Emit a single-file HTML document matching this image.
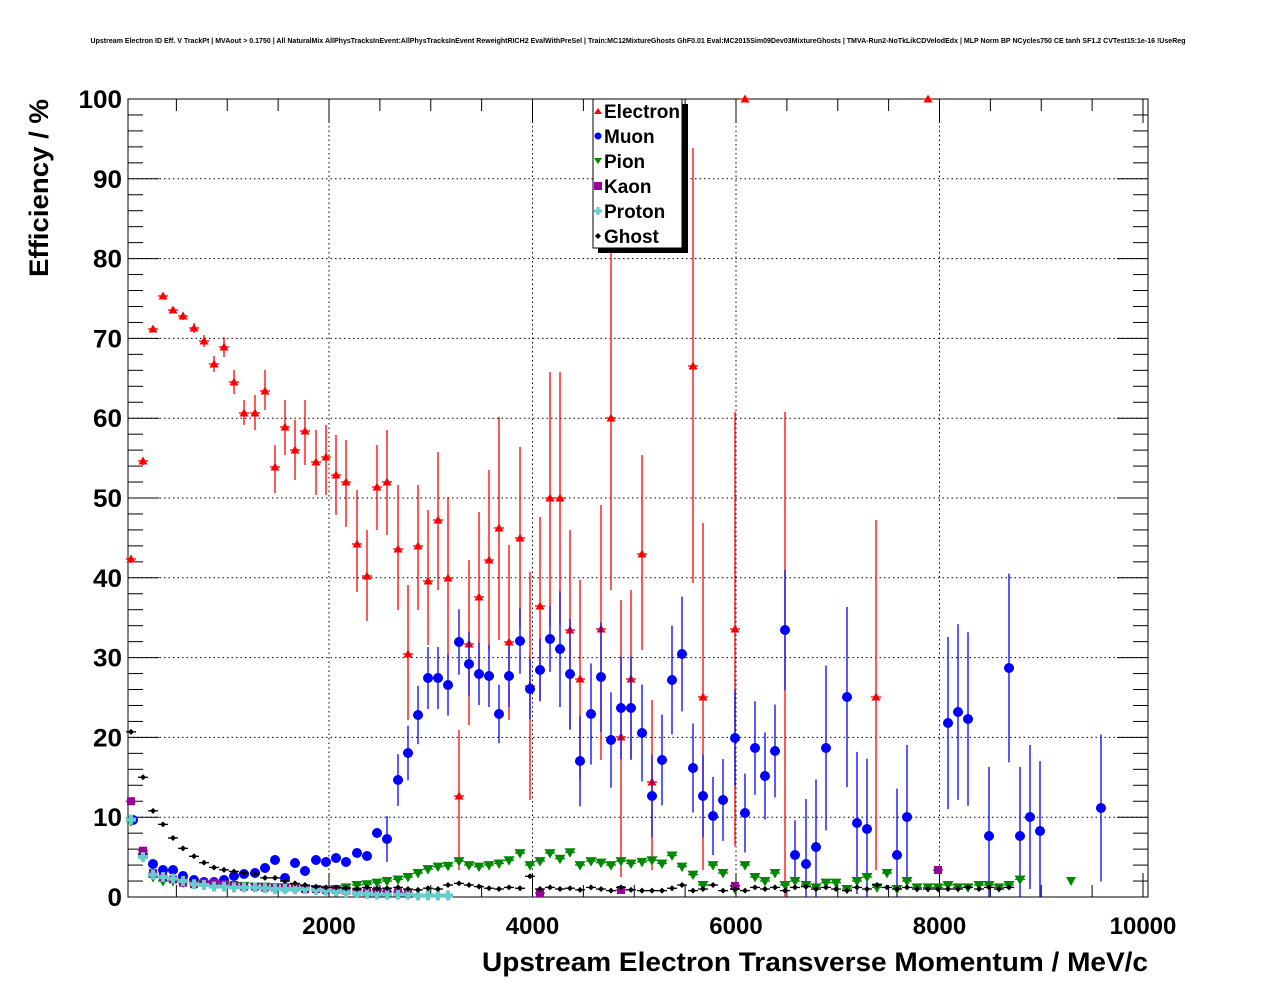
<!DOCTYPE html>
<html><head><meta charset="utf-8"><style>
body{margin:0;background:#fff;width:1276px;height:996px;overflow:hidden}
svg{display:block}
text{font-family:"Liberation Sans",sans-serif;font-weight:bold}
</style></head><body>
<svg id="s" width="1276" height="996" xmlns="http://www.w3.org/2000/svg">
<rect width="1276" height="996" fill="#fff"/>
<text x="638" y="43" font-size="7" text-anchor="middle" textLength="1095" lengthAdjust="spacingAndGlyphs">Upstream Electron ID Eff. V TrackPt | MVAout &gt; 0.1750 | All NaturalMix AllPhysTracksInEvent:AllPhysTracksInEvent ReweightRICH2 EvalWithPreSel | Train:MC12MixtureGhosts GhF0.01 Eval:MC2015Sim09Dev03MixtureGhosts | TMVA-Run2-NoTkLikCDVelodEdx | MLP Norm BP NCycles750 CE tanh SF1.2 CVTest15:1e-16 !UseReg</text>
<g id="grid"></g><g id="ax"></g><g id="data"></g><g id="leg"></g>
<text x="1148" y="971" font-size="27" text-anchor="end" textLength="666" lengthAdjust="spacingAndGlyphs">Upstream Electron Transverse Momentum / MeV/c</text>
<text transform="translate(48,99) rotate(-90)" font-size="27" text-anchor="end" textLength="178" lengthAdjust="spacingAndGlyphs">Efficiency / %</text>
</svg>
<script>
const NS="http://www.w3.org/2000/svg";
function el(p,t,a,txt){const e=document.createElementNS(NS,t);for(const k in a)e.setAttribute(k,a[k]);if(txt!==undefined)e.textContent=txt;document.getElementById(p).appendChild(e);return e;}
const X0=128,X1=1148,Y0=897,Y1=99;
const px=v=>125.5+v*0.10175, py=v=>Y0-v*7.98;
for(let v=2000;v<=8000;v+=2000)el("grid","line",{x1:px(v),x2:px(v),y1:Y1,y2:Y0,stroke:"#000","stroke-dasharray":"1.5,3","stroke-width":1});
for(let v=10;v<=90;v+=10)el("grid","line",{x1:X0,x2:X1,y1:py(v),y2:py(v),stroke:"#000","stroke-dasharray":"1.5,3","stroke-width":1});
el("ax","rect",{x:X0,y:Y1,width:X1-X0,height:Y0-Y1,fill:"none",stroke:"#000","stroke-width":1});
for(let v=0;v<=100;v+=2){const y=py(v),L=v%10==0?31:15;el("ax","line",{x1:X0,x2:X0+L,y1:y,y2:y,stroke:"#000"});el("ax","line",{x1:X1,x2:X1-L,y1:y,y2:y,stroke:"#000"});}
for(let v=0;v<=10000;v+=500){const x=px(v);if(x<X0||x>X1)continue;const L=v%2000==0?24:12;el("ax","line",{x1:x,x2:x,y1:Y0,y2:Y0-L,stroke:"#000"});el("ax","line",{x1:x,x2:x,y1:Y1,y2:Y1+L,stroke:"#000"});}
for(let v=0;v<=100;v+=10){const t=el("ax","text",{x:122,y:py(v)+9,"font-size":25,"text-anchor":"end"},""+v);t.setAttribute("textLength",(""+v).length*14.5);t.setAttribute("lengthAdjust","spacingAndGlyphs");}
for(let v=2000;v<=10000;v+=2000)el("ax","text",{x:px(v),y:934,"font-size":24,"text-anchor":"middle"},""+v);
function mark(g,type,x,y,c){
 if(type=="tu")el(g,"polygon",{points:`${x-4.5},${y+3.5} ${x+4.5},${y+3.5} ${x},${y-4.5}`,fill:c});
 else if(type=="td")el(g,"polygon",{points:`${x-5.5},${y-4} ${x+5.5},${y-4} ${x},${y+5.5}`,fill:c});
 else if(type=="c")el(g,"circle",{cx:x,cy:y,r:5,fill:c});
 else if(type=="sq")el(g,"rect",{x:x-4,y:y-4,width:8,height:8,fill:c});
 else if(type=="pl"){el(g,"rect",{x:x-5,y:y-2,width:10,height:4,fill:c});el(g,"rect",{x:x-2,y:y-5,width:4,height:10,fill:c});}
 else if(type=="d")el(g,"polygon",{points:`${x-3},${y} ${x},${y-3} ${x+3},${y} ${x},${y+3}`,fill:c});
}
function series(pts,type,c,hw){
 for(const p of pts){const [x,y,t,b]=p;
  el("data","line",{x1:x-hw,x2:x+hw,y1:y,y2:y,stroke:c,"stroke-width":1.3});
  if(t!==undefined)el("data","line",{x1:x,x2:x,y1:t,y2:Math.min(b,Y0),stroke:c,"stroke-width":1.3});
  mark("data",type,x,y,c);}
}
const pr=[131,143,153,163,173,183,194,204,214,224,234,244,255,265,275,285,295,305,316,326,336,346,357,367,377,387,398,408,418,428,438,448,459,469,479,489,499,509,520,530,540,550,560,570,580,591,601,611,621,631,642,652,662,672,682,693,703,713,723,735,745,755,765,775,785,795,806,816,826,836,847,857,867,877,887,897,907,917,928,938,948,958,968,979,989,999,1009,1020,1030,1040,1050,1060,1070,1080,1090,1101];
const E=[[131,559,555,563],[143,461,458,465],[153,329,327,332],[163,296,294,298],[173,310,307,313],[183,316,312,320],[194,328,323,333],[204,341,335,347],[214,364,356,372],[224,347,337,357],[234,382,370,394],[244,413,400,425],[255,413,395,430],[265,391,370,410],[275,467,445,493],[285,427,400,455],[295,450,420,480],[305,431,400,465],[316,462,430,495],[326,457,425,495],[336,475,435,515],[346,482,440,527],[357,544,490,592],[367,576,530,621],[377,487,445,530],[387,482,430,535],[398,549,485,610],[408,654,585,720],[418,546,485,610],[428,581,510,645],[438,520,452,590],[448,578,497,660],[459,796,730,870],[469,644,560,725],[479,597,512,680],[489,560,470,650],[499,528,417,640],[509,642,545,720],[520,538,447,627],[530,686,572,800],[540,606,517,700],[550,498,372,625],[560,498,372,625],[570,630,530,730],[580,679,580,780],[601,629,505,760],[611,418,245,590],[621,737,600,877],[631,679,590,760],[642,554,455,650],[652,782,700,870],[693,366,148,583],[703,697,523,870],[735,629,412,846],[745,99],[876,697,520,870],[928,99]];
series(E,"tu","#f00",5);
el("data","line",{x1:785,x2:785,y1:412,y2:897,stroke:"#f00","stroke-width":1.3});
const M=[[133,820],[143,855],[153,864],[163,870],[173,870],[183,876],[194,880],[204,882],[214,882],[224,880],[234,876],[244,874],[255,873],[265,868],[275,860],[285,878],[295,863],[305,871],[316,860],[326,862],[336,858],[346,862],[357,853],[367,856],[377,833],[387,839],[398,780],[408,753],[418,715],[428,678],[438,678],[448,685],[459,642],[469,664],[479,674],[489,676],[499,714],[509,676],[520,641],[530,689],[540,670],[550,639],[560,649],[570,674],[580,761],[591,714],[601,677],[611,740],[621,708],[631,708],[642,733],[652,796],[662,760],[672,680],[682,654],[693,768],[703,796],[713,816],[723,800],[735,738],[745,813],[755,748],[765,776],[775,751],[785,630],[795,855],[806,864],[816,847],[826,748],[847,697],[857,823],[867,829],[897,855],[907,817],[948,723],[958,712],[968,719],[989,836],[1009,668],[1020,836],[1030,817],[1040,831],[1101,808]];
series(M.map(([x,y])=>{const v=(Y0-y)/7.98;const e=x<380?Math.max(2,v*0.08):(x<560?20+v*0.4:(x<800?30+v*0.9:60+v*1.2));return [x,y,y-e,y+e];}),"c","#00f",5);
const Pv=[9.5,5,2.5,2,2,1.8,1.6,1.5,1.5,1.4,1.4,1.4,1.3,1.3,1.2,1.2,1.2,1.0,1.0,0.9,1.0,1.2,1.5,1.6,1.8,2,2.2,2.5,3,3.5,3.8,3.9,4.5,4,3.8,4,4.2,4.6,5.5,4,4.5,5.5,4.8,5.6,4,4.5,4.3,4,4.5,4.2,4.4,4.6,4.2,5.2,3.8,2.8,1.5,4,3,1,4,2.5,2,3,1.5,2,1.5,1.2,1.8,1.8,1,2,2.5,1.2,3,1,2,1.2,1.2,1.2,1.5,1.2,1.2,1.5,1.5,1.2,1.5,2.2];
series(Pv.map((v,i)=>[pr[i],py(v),py(v)-3,py(v)+3]),"td","#080",5);
el("data","polygon",{points:"1066,877 1076,877 1071,886",fill:"#080"});
const Kv=[12,5.8,3,2.5,2.2,1.8,1.6,1.8,1.8,1.6,1.5,1.3,1.3,1.2,1.2,1.2,1.2,1.0,1.0,0.9,0.9,0.8,0.7,0.6,0.8,0.7,0.6,0.5];
series(Kv.map((v,i)=>[pr[i],py(v)]),"sq","#909",5);
series([[540,893],[621,890],[735,886],[938,870]],"sq","#909",5);
const Pr=[9.7,5,2.8,2.5,2.3,2,1.6,1.5,1.3,1.3,1.2,1.2,1.2,1.1,1.0,1.0,1.0,1.0,0.9,0.8,0.7,0.6,0.5,0.4,0.3,0.3,0.3,0.3,0.2,0.2,0.2,0.2];
series(Pr.map((v,i)=>[pr[i],py(v)]),"pl","#6cc",5);
const Gv=[20.7,15,10.8,9.1,7.4,6.1,5.1,4.3,3.7,3.4,3.2,3.0,2.9,2.4,2.4,2.0,1.7,1.5,1.3,1.2,1.2,1.1,1.0,1.2,1.0,1.1,1.2,1.0,0.9,1.1,1.0,1.5,1.7,1.5,1.3,1.1,1.0,1.2,1.1,2.6,1.0,1.2,1.0,1.1,0.9,1.2,1.0,0.8,1.2,0.9,0.8,0.8,0.8,1.1,1.5,0.8,1.0,1.5,0.8,1,0.8,1.2,1,1.2,0.8,1.2,1.3,1,1.2,1,0.8,1.2,1,1.5,1.2,1,1.2,1,1,1,1,1,1.2,1,1.2,1,1.2];
series(Gv.map((v,i)=>[pr[i],py(v)]),"d","#000",5);
el("leg","rect",{x:598,y:104,width:90,height:149,fill:"#000"});
el("leg","rect",{x:593,y:99,width:89,height:149,fill:"#fff",stroke:"#000","stroke-width":1});
const L=[["Electron","tu","#f00"],["Muon","c","#00f"],["Pion","td","#080"],["Kaon","sq","#909"],["Proton","pl","#6cc"],["Ghost","d","#000"]];
L.forEach((l,i)=>{const y=111+i*25;
 if(l[1]=="c")el("leg","circle",{cx:598,cy:y,r:3.5,fill:l[2]});
 else if(l[1]=="tu")el("leg","polygon",{points:`594,${y+3} 602,${y+3} 598,${y-3}`,fill:l[2]});
 else if(l[1]=="td")el("leg","polygon",{points:`594,${y-3} 602,${y-3} 598,${y+3}`,fill:l[2]});
 else if(l[1]=="sq")el("leg","rect",{x:594,y:y-4,width:8,height:8,fill:l[2]});
 else if(l[1]=="pl"){el("leg","rect",{x:594,y:y-1.5,width:8,height:3,fill:l[2]});el("leg","rect",{x:596.5,y:y-4,width:3,height:8,fill:l[2]});}
 else el("leg","polygon",{points:`595,${y} 598,${y-3} 601,${y} 598,${y+3}`,fill:l[2]});
 el("leg","text",{x:604,y:y+7,"font-size":19},l[0]);});
</script>
</body></html>
